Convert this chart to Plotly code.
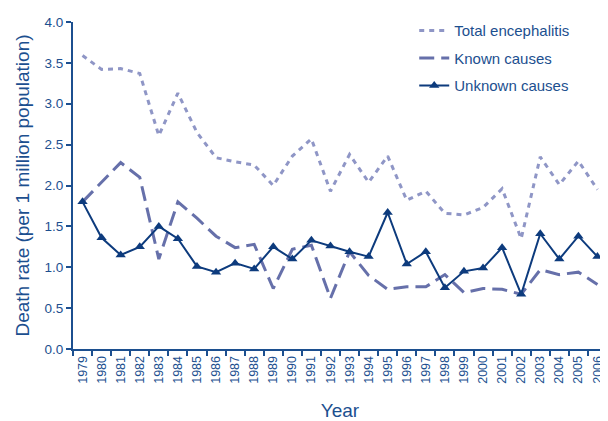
import plotly.graph_objects as go

years = [str(y) for y in range(1979, 2007)]
total = [3.59, 3.42, 3.43, 3.37, 2.61, 3.13, 2.65, 2.34, 2.29, 2.25, 2.00, 2.36, 2.57, 1.93,
         2.38, 2.04, 2.36, 1.82, 1.93, 1.66, 1.64, 1.73, 1.96, 1.35, 2.35, 2.01, 2.30, 1.95]
known = [1.80, 2.04, 2.28, 2.10, 1.10, 1.80, 1.60, 1.38, 1.24, 1.28, 0.74, 1.22, 1.27, 0.62,
         1.19, 0.90, 0.73, 0.76, 0.76, 0.91, 0.69, 0.74, 0.73, 0.67, 0.97, 0.91, 0.94, 0.79]
unknown = [1.80, 1.36, 1.15, 1.25, 1.50, 1.35, 1.01, 0.94, 1.05, 0.98, 1.25, 1.10, 1.33, 1.26,
           1.19, 1.13, 1.67, 1.04, 1.19, 0.75, 0.95, 0.99, 1.24, 0.67, 1.41, 1.10, 1.38, 1.13]
yticks = [0.0, 0.5, 1.0, 1.5, 2.0, 2.5, 3.0, 3.5, 4.0]

navy = "#1c4f8f"
fig = go.Figure()
fig.add_trace(go.Scatter(x=years, y=total, mode="lines", name="Total encephalitis",
                         legendgroup="a",
                         line=dict(color="#8f96c6", width=3, dash="5px,5px")))
fig.add_trace(go.Scatter(x=years, y=known, mode="lines", name="Known causes",
                         legendgroup="b",
                         line=dict(color="#6670aa", width=3, dash="15px,7px")))
fig.add_trace(go.Scatter(x=years, y=unknown, mode="lines+markers", name="Unknown causes",
                         legendgroup="c",
                         line=dict(color="#0d3b7d", width=2),
                         marker=dict(symbol="triangle-up", size=9, color="#0d3b7d")))

fig.update_layout(
    width=608, height=421,
    margin=dict(l=65, r=9, t=6, b=80),
    paper_bgcolor="white", plot_bgcolor="white",
    font=dict(family="Liberation Sans, Arial, sans-serif", color=navy),
    showlegend=True,
    legend=dict(x=0.639, y=1.024, xanchor="left", yanchor="top", bgcolor="rgba(0,0,0,0)",
                font=dict(size=15, color=navy), itemwidth=30, tracegroupgap=5),
)
fig.update_xaxes(type="category", range=[-0.5, len(years) - 0.5], tickangle=-90,
                 tickson="boundaries", ticks="outside",
                 ticklen=5, tickwidth=1.5, tickcolor=navy, showline=True, linecolor=navy,
                 linewidth=2, showgrid=False, tickfont=dict(size=12.5, color=navy),
                 automargin=False,
                 title=dict(text="Year", font=dict(size=19, color=navy), standoff=21))
fig.update_yaxes(range=[0, 4], tickvals=yticks, tickformat=".1f", ticks="outside",
                 ticklen=5, tickwidth=1.5, tickcolor=navy, showline=True, linecolor=navy,
                 linewidth=2, showgrid=False, zeroline=False, tickfont=dict(size=13.5, color=navy),
                 automargin=False,
                 title=dict(text="Death rate (per 1 million population)",
                            font=dict(size=19, color=navy), standoff=10))

fig.write_html("out.html")
